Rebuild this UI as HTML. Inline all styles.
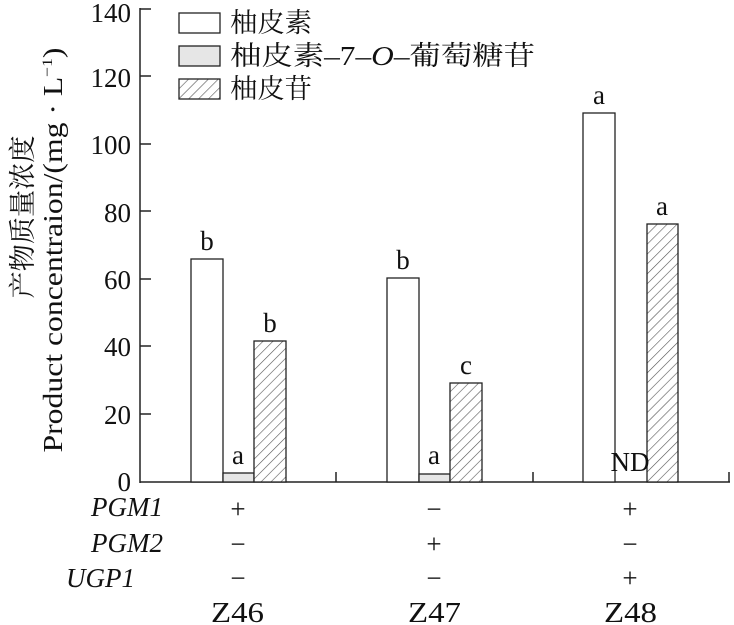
<!DOCTYPE html>
<html><head><meta charset="utf-8"><style>body{margin:0;background:#fff}svg{display:block}</style></head><body>
<svg width="734" height="625" xmlns="http://www.w3.org/2000/svg" font-family="Liberation Serif, 'Noto Serif CJK SC', serif">
<defs><pattern id="h" width="7" height="7" patternUnits="userSpaceOnUse" patternTransform="rotate(45)"><rect width="7" height="7" fill="#fff"/><line x1="0" y1="0" x2="0" y2="7" stroke="#555" stroke-width="1.2"/></pattern></defs>
<g stroke="#222" stroke-width="1.5" fill="none">
<line x1="140" y1="8" x2="140" y2="483"/>
<line x1="140" y1="482" x2="730" y2="482"/>
<line x1="140" y1="9" x2="151" y2="9"/><line x1="140" y1="76" x2="151" y2="76"/><line x1="140" y1="144" x2="151" y2="144"/><line x1="140" y1="211" x2="151" y2="211"/><line x1="140" y1="279" x2="151" y2="279"/><line x1="140" y1="346" x2="151" y2="346"/><line x1="140" y1="414" x2="151" y2="414"/>
<line x1="336" y1="472" x2="336" y2="482"/><line x1="533" y1="472" x2="533" y2="482"/><line x1="729" y1="472" x2="729" y2="482"/>
</g>
<g stroke="#222" stroke-width="1.3">
<rect x="191" y="259" width="32" height="223" fill="#fff"/>
<rect x="223" y="473" width="31" height="9" fill="#e6e6e6"/>
<rect x="254" y="341" width="32" height="141" fill="url(#h)"/>
<rect x="387" y="278" width="32" height="204" fill="#fff"/>
<rect x="419" y="474" width="31" height="8" fill="#e6e6e6"/>
<rect x="450" y="383" width="32" height="99" fill="url(#h)"/>
<rect x="583" y="113" width="32" height="369" fill="#fff"/>
<rect x="647" y="224" width="31" height="258" fill="url(#h)"/>
<rect x="179" y="13" width="41" height="20" fill="#fff"/>
<rect x="179" y="46" width="41" height="20" fill="#e6e6e6"/>
<rect x="179" y="79" width="41" height="20" fill="url(#h)"/>
</g>
<g font-size="27" fill="#111" text-anchor="end">
<text x="131" y="22">140</text><text x="131" y="87">120</text><text x="131" y="154">100</text><text x="131" y="222">80</text><text x="131" y="289">60</text><text x="131" y="356">40</text><text x="131" y="424">20</text><text x="131" y="491">0</text>
</g>
<g font-size="27" fill="#111" text-anchor="middle">
<text x="207" y="250">b</text><text x="238" y="464">a</text><text x="270" y="332">b</text>
<text x="403" y="269">b</text><text x="434" y="464">a</text><text x="466" y="374">c</text>
<text x="599" y="104">a</text><text x="662" y="215">a</text><text x="630" y="471">ND</text>
<text x="238" y="518">+</text><text x="238" y="553">−</text><text x="238" y="587">−</text>
<text x="434" y="518">−</text><text x="434" y="553">+</text><text x="434" y="587">−</text>
<text x="630" y="518">+</text><text x="630" y="553">−</text><text x="630" y="587">+</text>
</g>
<g font-size="28" fill="#111">
<text x="211" y="622" textLength="53" lengthAdjust="spacingAndGlyphs">Z46</text><text x="408" y="622" textLength="53" lengthAdjust="spacingAndGlyphs">Z47</text><text x="604" y="622" textLength="53" lengthAdjust="spacingAndGlyphs">Z48</text>
</g>
<g font-size="27" fill="#111" font-style="italic" text-anchor="end">
<text x="163" y="516">PGM1</text><text x="163" y="552">PGM2</text><text x="135" y="587">UGP1</text>
</g>
<g font-size="27" fill="#111">
<text x="230" y="32" textLength="82" lengthAdjust="spacingAndGlyphs">柚皮素</text>
<text x="230" y="65" textLength="305" lengthAdjust="spacingAndGlyphs">柚皮素–7–<tspan font-style="italic">O</tspan>–葡萄糖苷</text>
<text x="230" y="98" textLength="82" lengthAdjust="spacingAndGlyphs">柚皮苷</text>
</g>
<g font-size="27" fill="#111" text-anchor="middle">
<text transform="translate(32,217) rotate(-90)" textLength="163" lengthAdjust="spacingAndGlyphs">产物质量浓度</text>
<text transform="translate(62,250) rotate(-90)" textLength="405" lengthAdjust="spacingAndGlyphs">Product concentraion/(mg · L<tspan font-size="15" dy="-10">−1</tspan><tspan dy="10">)</tspan></text>
</g>
</svg>
</body></html>
